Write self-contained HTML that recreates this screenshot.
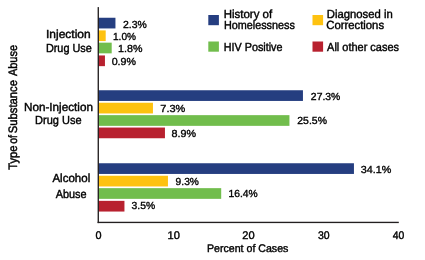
<!DOCTYPE html>
<html><head><meta charset="utf-8"><style>
html,body{margin:0;padding:0;background:#fff;width:425px;height:260px;overflow:hidden}
svg{display:block;will-change:transform}
text{font-family:"Liberation Sans",sans-serif;fill:#000;stroke:#000;stroke-width:0.45px;text-rendering:geometricPrecision}
.d{font-size:10.3px;stroke-width:0.35px}
.t{font-size:11.0px;stroke-width:0.4px}
.g{font-size:11.7px;stroke-width:0.42px}
.l{font-size:11.8px;stroke-width:0.42px}
.y{font-size:12.2px}
</style></head><body>
<svg width="425" height="260" viewBox="0 0 425 260">
<rect x="98.2" y="17.75" width="17.25" height="10.7" fill="#253e80"/>
<rect x="98.2" y="30.40" width="7.50" height="10.7" fill="#fec210"/>
<rect x="98.2" y="42.65" width="13.50" height="10.7" fill="#71bd4c"/>
<rect x="98.2" y="55.45" width="6.75" height="10.7" fill="#b8212f"/>
<rect x="98.2" y="90.25" width="204.75" height="10.7" fill="#253e80"/>
<rect x="98.2" y="102.75" width="54.75" height="10.7" fill="#fec210"/>
<rect x="98.2" y="115.15" width="191.25" height="10.7" fill="#71bd4c"/>
<rect x="98.2" y="127.55" width="66.75" height="10.7" fill="#b8212f"/>
<rect x="98.2" y="163.25" width="255.75" height="10.7" fill="#253e80"/>
<rect x="98.2" y="175.75" width="69.75" height="10.7" fill="#fec210"/>
<rect x="98.2" y="188.15" width="123.00" height="10.7" fill="#71bd4c"/>
<rect x="98.2" y="200.85" width="26.25" height="10.7" fill="#b8212f"/>
<rect x="97.6" y="7.1" width="1.35" height="216.0" fill="#231f20"/>
<rect x="97.6" y="221.75" width="301.2" height="1.35" fill="#231f20"/>
<rect x="208.3" y="15.0" width="10.6" height="10.2" fill="#253e80"/>
<rect x="208.3" y="41.5" width="10.6" height="10.2" fill="#71bd4c"/>
<rect x="312.5" y="15.0" width="10.6" height="10.2" fill="#fec210"/>
<rect x="312.5" y="41.5" width="10.6" height="10.2" fill="#b8212f"/>
<text x="46.00" y="38.00" class="g" textLength="44.69" lengthAdjust="spacingAndGlyphs">Injection</text>
<text x="45.89" y="52.00" class="g" textLength="45.96" lengthAdjust="spacingAndGlyphs">Drug Use</text>
<text x="24.03" y="111.00" class="g" textLength="68.91" lengthAdjust="spacingAndGlyphs">Non-Injection</text>
<text x="35.09" y="124.00" class="g" textLength="46.43" lengthAdjust="spacingAndGlyphs">Drug Use</text>
<text x="52.44" y="182.00" class="g" textLength="37.76" lengthAdjust="spacingAndGlyphs">Alcohol</text>
<text x="55.71" y="198.00" class="g" textLength="30.91" lengthAdjust="spacingAndGlyphs">Abuse</text>
<text x="223.77" y="18.00" class="l" textLength="48.37" lengthAdjust="spacingAndGlyphs">History of</text>
<text x="223.90" y="29.00" class="l" textLength="70.92" lengthAdjust="spacingAndGlyphs">Homelessness</text>
<text x="223.76" y="51.00" class="l" textLength="58.70" lengthAdjust="spacingAndGlyphs">HIV Positive</text>
<text x="326.83" y="18.00" class="l" textLength="65.93" lengthAdjust="spacingAndGlyphs">Diagnosed in</text>
<text x="326.22" y="29.00" class="l" textLength="57.83" lengthAdjust="spacingAndGlyphs">Corrections</text>
<text x="327.12" y="51.00" class="l" textLength="71.90" lengthAdjust="spacingAndGlyphs">All other cases</text>
<text x="95.60" y="239.00" class="t" textLength="6.05" lengthAdjust="spacingAndGlyphs">0</text>
<text x="167.49" y="239.00" class="t" textLength="12.32" lengthAdjust="spacingAndGlyphs">10</text>
<text x="242.38" y="239.00" class="t" textLength="12.34" lengthAdjust="spacingAndGlyphs">20</text>
<text x="317.88" y="239.00" class="t" textLength="11.65" lengthAdjust="spacingAndGlyphs">30</text>
<text x="392.83" y="239.00" class="t" textLength="11.54" lengthAdjust="spacingAndGlyphs">40</text>
<text x="207.01" y="252.00" class="t" textLength="81.38" lengthAdjust="spacingAndGlyphs">Percent of Cases</text>
<text x="122.95" y="28.00" class="d" textLength="23.82" lengthAdjust="spacingAndGlyphs">2.3%</text>
<text x="113.00" y="40.00" class="d" textLength="23.05" lengthAdjust="spacingAndGlyphs">1.0%</text>
<text x="118.12" y="52.00" class="d" textLength="24.41" lengthAdjust="spacingAndGlyphs">1.8%</text>
<text x="111.68" y="65.00" class="d" textLength="24.41" lengthAdjust="spacingAndGlyphs">0.9%</text>
<text x="310.88" y="100.00" class="d" textLength="29.46" lengthAdjust="spacingAndGlyphs">27.3%</text>
<text x="160.37" y="112.00" class="d" textLength="25.03" lengthAdjust="spacingAndGlyphs">7.3%</text>
<text x="297.31" y="124.00" class="d" textLength="29.66" lengthAdjust="spacingAndGlyphs">25.5%</text>
<text x="171.53" y="137.00" class="d" textLength="24.53" lengthAdjust="spacingAndGlyphs">8.9%</text>
<text x="360.79" y="173.00" class="d" textLength="30.55" lengthAdjust="spacingAndGlyphs">34.1%</text>
<text x="175.62" y="185.00" class="d" textLength="23.29" lengthAdjust="spacingAndGlyphs">9.3%</text>
<text x="228.55" y="197.00" class="d" textLength="29.21" lengthAdjust="spacingAndGlyphs">16.4%</text>
<text x="131.56" y="209.00" class="d" textLength="23.65" lengthAdjust="spacingAndGlyphs">3.5%</text>
<text transform="translate(16.90,169.67) rotate(-90)" x="0" y="0" class="y" textLength="24.07" lengthAdjust="spacingAndGlyphs">Type</text>
<text transform="translate(16.90,143.81) rotate(-90)" x="0" y="0" class="y" textLength="8.77" lengthAdjust="spacingAndGlyphs">of</text>
<text transform="translate(16.90,133.33) rotate(-90)" x="0" y="0" class="y" textLength="53.38" lengthAdjust="spacingAndGlyphs">Substance</text>
<text transform="translate(16.90,76.12) rotate(-90)" x="0" y="0" class="y" textLength="31.18" lengthAdjust="spacingAndGlyphs">Abuse</text>
</svg>
</body></html>
